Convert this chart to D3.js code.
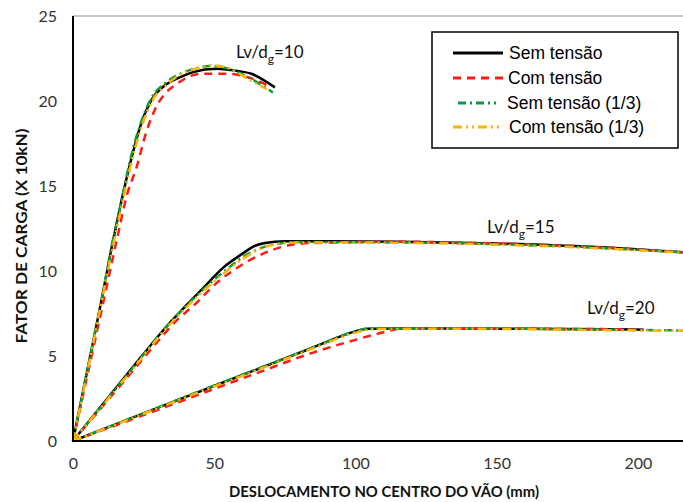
<!DOCTYPE html>
<html><head><meta charset="utf-8">
<script src="https://cdn.jsdelivr.net/npm/d3@7"></script>
<style>
html,body{margin:0;padding:0;background:#fff;}
svg{display:block;}
</style></head>
<body>
<svg id="c" width="683" height="502"></svg>
<script>
// ---- data ----
const xTicks = [0, 50, 100, 150, 200];
const yTicks = [0, 5, 10, 15, 20, 25];
const seriesNames = ["Sem tensão", "Com tensão", "Sem tensão (1/3)", "Com tensão (1/3)"];
const seriesColors = ["#000000", "#ff1a1a", "#0a9a3c", "#ffb400"];
const curveLabels = ["10", "15", "20"];

// Lv/dg = 10
const lv10_sem_x = [0, 5, 10, 14.2, 17, 20.8, 24, 27.8, 33.2, 38, 42.5, 50.9, 57, 63.2, 71.5];
const lv10_sem_y = [0, 4.1, 8.2, 11.8, 14.0, 16.7, 18.6, 20.06, 21.0, 21.4, 21.7, 21.9, 21.8, 21.6, 20.8];
const lv10_com_x = [0, 5, 10, 16, 19, 22.5, 26, 29.6, 33, 36.7, 45, 54.4, 63.7, 70.3];
const lv10_com_y = [0, 3.8, 7.6, 12.2, 14.4, 16.1, 18.2, 19.7, 20.5, 21.0, 21.6, 21.6, 21.3, 20.8];
const lv10_sem3_x = [0, 5, 10, 14, 17, 20.5, 24, 27.5, 33, 38, 43, 48.5, 55, 62, 70.8];
const lv10_sem3_y = [0, 4.1, 8.2, 11.7, 14.0, 16.7, 18.7, 20.1, 21.1, 21.6, 21.9, 22.06, 21.9, 21.4, 20.5];
const lv10_com3_x = [0, 5, 10, 14.3, 17.3, 21, 24.5, 28, 33.5, 38.5, 43.5, 49, 55.5, 62, 68.6];
const lv10_com3_y = [0, 4.0, 8.1, 11.6, 13.9, 16.6, 18.6, 20.0, 21.0, 21.6, 21.9, 22.1, 21.9, 21.3, 20.7];

// Lv/dg = 15
const lv15_sem_x = [0, 10, 20, 33.2, 46.1, 53.2, 60.3, 64, 68, 75, 90, 115.8, 150, 180, 216];
const lv15_sem_y = [0, 2.05, 4.1, 6.75, 9.0, 10.2, 11.05, 11.45, 11.65, 11.75, 11.75, 11.72, 11.62, 11.45, 11.1];
const lv15_com_x = [0, 10, 20, 30, 36.7, 42.6, 50.9, 57.9, 65, 70, 76, 85, 115.8, 150, 180, 216];
const lv15_com_y = [0, 1.95, 3.9, 5.85, 7.1, 7.95, 9.3, 10.16, 10.84, 11.2, 11.5, 11.65, 11.72, 11.62, 11.45, 11.1];
const lv15_sem3_x = [0, 10, 20, 33, 46, 54.4, 60, 66.2, 72, 80, 115.8, 150, 180, 216];
const lv15_sem3_y = [0, 2.03, 4.05, 6.7, 8.9, 10.1, 10.8, 11.33, 11.6, 11.7, 11.68, 11.58, 11.4, 11.1];
const lv15_com3_x = [0, 10, 20, 33, 46, 54.4, 60, 66.2, 72, 80, 115.8, 150, 180, 216];
const lv15_com3_y = [0, 2.0, 4.0, 6.62, 8.8, 10.0, 10.7, 11.3, 11.58, 11.68, 11.66, 11.55, 11.38, 11.08];

// Lv/dg = 20
const lv20_sem_x = [0, 20, 40, 66.2, 85, 100, 104, 130, 160, 190, 202];
const lv20_sem_y = [0, 1.3, 2.6, 4.28, 5.5, 6.45, 6.6, 6.62, 6.6, 6.58, 6.55];
const lv20_com_x = [0, 20, 40, 66, 85, 100, 110, 116, 130, 160, 190, 202];
const lv20_com_y = [0, 1.22, 2.45, 4.05, 5.2, 5.95, 6.4, 6.6, 6.62, 6.6, 6.58, 6.55];
const lv20_sem3_x = [0, 20, 40, 66.2, 85, 100, 104, 130, 160, 190, 216];
const lv20_sem3_y = [0, 1.31, 2.62, 4.3, 5.5, 6.45, 6.6, 6.62, 6.6, 6.55, 6.5];
const lv20_com3_x = [0, 20, 40, 66.2, 85, 101, 106, 130, 160, 190, 216];
const lv20_com3_y = [0, 1.28, 2.57, 4.24, 5.45, 6.42, 6.58, 6.6, 6.58, 6.52, 6.48];

// ---- drawing ----
const svg = d3.select("#c");
const x = d3.scaleLinear().domain([0, 216]).range([73, 683]);
const y = d3.scaleLinear().domain([0, 25]).range([441, 16]);

const dashes = [null, "8,6", "8,4,2,4", "9,4,2,4,2,4"];
const widths = [2.5, 2.5, 2.5, 2.5];

const groups = [
  [[lv10_sem_x, lv10_sem_y], [lv10_com_x, lv10_com_y], [lv10_sem3_x, lv10_sem3_y], [lv10_com3_x, lv10_com3_y]],
  [[lv15_sem_x, lv15_sem_y], [lv15_com_x, lv15_com_y], [lv15_sem3_x, lv15_sem3_y], [lv15_com3_x, lv15_com3_y]],
  [[lv20_sem_x, lv20_sem_y], [lv20_com_x, lv20_com_y], [lv20_sem3_x, lv20_sem3_y], [lv20_com3_x, lv20_com3_y]]
];

// top gridline
svg.append("line").attr("x1", x(0)).attr("x2", x(216)).attr("y1", y(25)).attr("y2", y(25))
  .attr("stroke", "#8c8c8c").attr("stroke-width", 1);

const line = d3.line().x(d => x(d[0])).y(d => y(d[1])).curve(d3.curveMonotoneX);
const plot = svg.append("g");
for (let s = 0; s < 4; s++) {
  for (const g of groups) {
    const pts = g[s][0].map((v, i) => [v, g[s][1][i]]);
    plot.append("path").attr("d", line(pts)).attr("fill", "none")
      .attr("stroke", seriesColors[s]).attr("stroke-width", widths[s])
      .attr("stroke-dasharray", dashes[s]).attr("stroke-linejoin", "round");
  }
}

// axes
const yAxis = d3.axisLeft(y).tickValues(yTicks).tickSize(0).tickPadding(0);
const gy = svg.append("g").attr("transform", "translate(57,0)").call(yAxis);
gy.select(".domain").remove();
gy.selectAll("text").attr("font-family", "Lato, 'Open Sans', sans-serif").attr("font-size", 16).attr("fill", "#333").attr("dy", "0.35em");

const xAxis = d3.axisBottom(x).tickValues(xTicks).tickSize(0).tickPadding(0);
const gx = svg.append("g").attr("transform", "translate(0,458)").call(xAxis);
gx.select(".domain").remove();
gx.selectAll("text").attr("font-family", "Lato, 'Open Sans', sans-serif").attr("font-size", 16).attr("fill", "#333").attr("dy", "0.71em");

svg.append("line").attr("x1", x(0)).attr("x2", x(0)).attr("y1", y(25)).attr("y2", y(0) + 1)
  .attr("stroke", "#000").attr("stroke-width", 2);
svg.append("line").attr("x1", x(0) - 1).attr("x2", 683).attr("y1", y(0)).attr("y2", y(0))
  .attr("stroke", "#000").attr("stroke-width", 2);

// axis titles
svg.append("text").attr("x", 384).attr("y", 497).attr("text-anchor", "middle")
  .attr("font-family", "Lato, sans-serif").attr("font-weight", "bold").attr("font-size", 14.5)
  .attr("textLength", 310).attr("lengthAdjust", "spacingAndGlyphs")
  .attr("fill", "#111").text("DESLOCAMENTO NO CENTRO DO VÃO (mm)");
svg.append("text").attr("transform", "translate(27,236) rotate(-90)").attr("text-anchor", "middle")
  .attr("font-family", "Lato, sans-serif").attr("font-weight", "bold").attr("font-size", 15)
  .attr("textLength", 215).attr("lengthAdjust", "spacingAndGlyphs")
  .attr("fill", "#111").text("FATOR DE CARGA (X 10kN)");

// curve labels
const labelPos = [[236, 58], [487, 233], [587, 314]];
curveLabels.forEach((v, i) => {
  const t = svg.append("text").attr("x", labelPos[i][0]).attr("y", labelPos[i][1])
    .attr("font-family", "Lato, sans-serif").attr("font-size", 17).attr("fill", "#111");
  t.append("tspan").text("Lv/d");
  t.append("tspan").attr("font-size", 12).attr("dy", 5).text("g");
  t.append("tspan").attr("dy", -5).text("=" + v);
});

// legend
const lg = svg.append("g");
lg.append("rect").attr("x", 432).attr("y", 32).attr("width", 246).attr("height", 116)
  .attr("fill", "#fff").attr("stroke", "#000").attr("stroke-width", 1.5);
const rowsY = [53, 78, 103, 127];
const lineX = [[453, 503], [453, 503], [458, 496], [453, 503]];
const textX = [509, 508, 507, 509];
seriesNames.forEach((n, i) => {
  lg.append("line").attr("x1", lineX[i][0]).attr("x2", lineX[i][1]).attr("y1", rowsY[i]).attr("y2", rowsY[i])
    .attr("stroke", seriesColors[i]).attr("stroke-width", 3).attr("stroke-dasharray", dashes[i]);
  lg.append("text").attr("x", textX[i]).attr("y", rowsY[i]).attr("dy", "0.35em")
    .attr("font-family", "'Liberation Sans', Arial, sans-serif").attr("font-size", 17.5)
    .attr("fill", "#000").text(n);
});
</script>
</body></html>
